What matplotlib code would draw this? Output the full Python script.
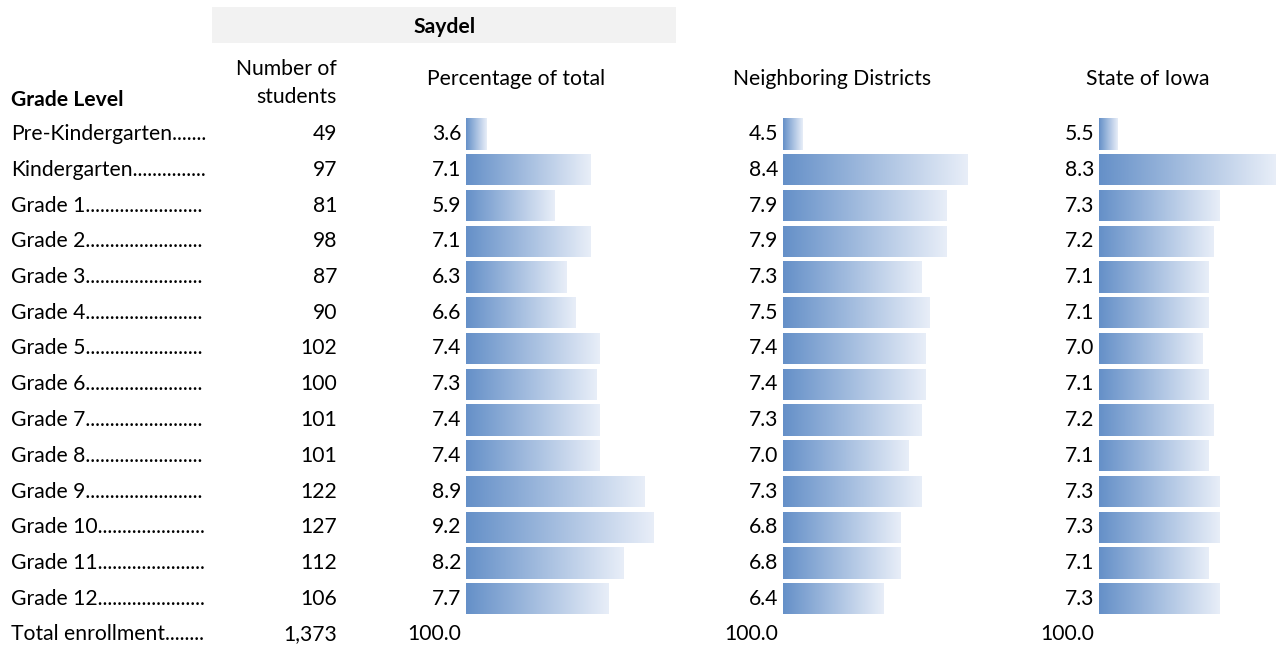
import numpy as np
import matplotlib

matplotlib.use("Agg")
import matplotlib.pyplot as plt
from matplotlib.colors import LinearSegmentedColormap
from matplotlib.patches import Rectangle

plt.rcParams["font.family"] = ["Lato", "DejaVu Sans"]

grades = ["Pre-Kindergarten", "Kindergarten", "Grade 1", "Grade 2", "Grade 3",
          "Grade 4", "Grade 5", "Grade 6", "Grade 7", "Grade 8", "Grade 9",
          "Grade 10", "Grade 11", "Grade 12"]
students = [49, 97, 81, 98, 87, 90, 102, 100, 101, 101, 122, 127, 112, 106]
total_students = "1,373"
saydel_pct = [3.6, 7.1, 5.9, 7.1, 6.3, 6.6, 7.4, 7.3, 7.4, 7.4, 8.9, 9.2, 8.2, 7.7]
neighbor_pct = [4.5, 8.4, 7.9, 7.9, 7.3, 7.5, 7.4, 7.4, 7.3, 7.0, 7.3, 6.8, 6.8, 6.4]
iowa_pct = [5.5, 8.3, 7.3, 7.2, 7.1, 7.1, 7.0, 7.1, 7.2, 7.1, 7.3, 7.3, 7.1, 7.3]
total_pct = "100.0"

W, H = 1277, 647
FS = 15.2
row0, pitch = 134, 35.75   # pixel row layout
n = len(grades)

fig = plt.figure(figsize=(W / 100, H / 100), dpi=100)
ax = fig.add_axes([0, 0, 1, 1])
ax.set_xlim(0, W)
ax.set_ylim(H, 0)
ax.axis("off")
renderer = fig.canvas.get_renderer()


def fig_rect(x0, x1, y0, y1):
    return [x0 / W, 1 - y1 / H, (x1 - x0) / W, (y1 - y0) / H]


# header band
ax.add_patch(Rectangle((212, 7), 464, 36, color="#f2f2f2", lw=0))
ax.text(445, 27, "Saydel", ha="center", va="center", fontsize=FS, fontweight="bold")
ax.text(11, 100, "Grade Level", ha="left", va="center", fontsize=FS, fontweight="bold")
ax.text(337, 83, "Number of\nstudents", ha="right", va="center", fontsize=FS,
        linespacing=1.55)
ax.text(516, 79, "Percentage of total", ha="center", va="center", fontsize=FS)
ax.text(832, 79, "Neighboring Districts", ha="center", va="center", fontsize=FS)
ax.text(1148, 79, "State of Iowa", ha="center", va="center", fontsize=FS)

# grade labels with dot leaders filled up to the cell edge
labels = grades + ["Total enrollment"]
for i, g in enumerate(labels):
    t = ax.text(11, row0 + i * pitch, g, ha="left", va="center", fontsize=FS)
    while True:
        t.set_text(t.get_text() + ".")
        if t.get_window_extent(renderer).x1 > 207:
            t.set_text(t.get_text()[:-1])
            break

for i, s in enumerate(students):
    ax.text(337, row0 + i * pitch, str(s), ha="right", va="center", fontsize=FS)
ax.text(337, row0 + n * pitch, total_students, ha="right", va="center", fontsize=FS)

cmap = LinearSegmentedColormap.from_list("bar", ["#6590c8", "#e8eef8"])
grad = np.linspace(0, 1, 256).reshape(1, -1)

panels = [
    (saydel_pct, 466, 653, 461),
    (neighbor_pct, 783, 968, 778),
    (iowa_pct, 1099, 1276, 1094),
]
for vals, x0, x1, xt in panels:
    lo, hi = min(vals), max(vals)
    base = lo - 0.12 * (hi - lo)
    pax = fig.add_axes(fig_rect(x0, x1, row0 - pitch / 2, row0 + (n - 0.5) * pitch))
    pax.axis("off")
    bars = pax.barh(range(n), vals, height=0.87, left=0, color="none", lw=0)
    for b, v in zip(bars, vals):
        y = b.get_y()
        im = pax.imshow(grad, cmap=cmap, aspect="auto",
                        extent=(base, v, y + b.get_height(), y), zorder=2)
        im.set_clip_path(b)
    pax.set_xlim(base, hi)
    pax.set_ylim(n - 0.5, -0.5)
    for i, v in enumerate(vals):
        ax.text(xt, row0 + i * pitch, f"{v:.1f}", ha="right", va="center", fontsize=FS)
    ax.text(xt, row0 + n * pitch, total_pct, ha="right", va="center", fontsize=FS)

fig.savefig("out.png", dpi=100)
